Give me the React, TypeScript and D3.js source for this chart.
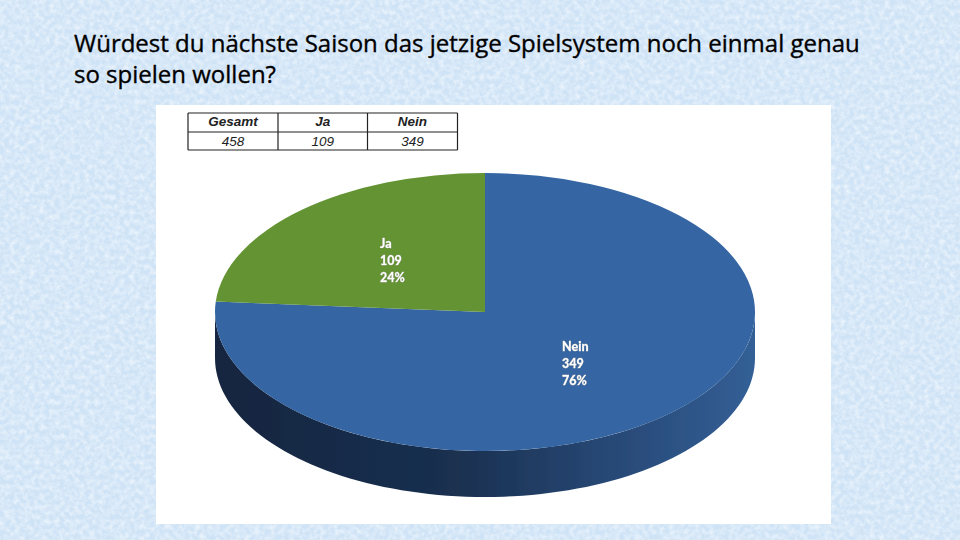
import React from "react";
import * as d3 from "d3";

const titleLines = ["Würdest du nächste Saison das jetzige Spielsystem noch einmal genau", "so spielen wollen?"];
const categories = ["Nein", "Ja"];
const values = [349, 109];
const percents = ["76%", "24%"];
const sliceColors = ["#3465a2", "#649333"];
const tableHeaders = ["Gesamt", "Ja", "Nein"];
const tableValues = ["458", "109", "349"];
const columnEdges = [188, 278, 367.5, 457.5];
const rowEdges = [113, 132, 150];

const W = 960, H = 540;
const cx = 485, cy = 312, rx = 270, ry = 139, depth = 46;

const pie = d3.pie<number>().sort(null).startAngle(0).endAngle(2 * Math.PI);
const arcs = pie(values);
const arcGen = d3.arc<d3.PieArcDatum<number>>().innerRadius(0).outerRadius(rx);
const yScale = ry / rx;

const frontAngles = d3.range(90, 270.5, 2).map((d) => (d * Math.PI) / 180);
const sidePt = (a: number, dy: number): [number, number] => [cx + rx * Math.sin(a), cy - ry * Math.cos(a) + dy];
const sideLine = d3.line();
const sidePath = sideLine([
  ...frontAngles.map((a) => sidePt(a, 0)),
  ...[...frontAngles].reverse().map((a) => sidePt(a, depth)),
])! + "Z";

const labelPos = [
  { x: 562, y: 351 },
  { x: 380, y: 248 },
];

export default function App() {
  return (
    <svg width={W} height={H} viewBox={`0 0 ${W} ${H}`} style={{ position: "absolute", left: 0, top: 0 }}>
      <defs>
        <filter id="paper" x="0" y="0" width="100%" height="100%">
          <feTurbulence type="fractalNoise" baseFrequency="0.2" numOctaves={3} seed={7} />
          <feColorMatrix type="matrix" values="0 0 0 0 0.93  0 0 0 0 0.97  0 0 0 0 1  1.3 0 0 0 -0.45" />
        </filter>
        <linearGradient id="side" x1={cx - rx} x2={cx + rx} y1="0" y2="0" gradientUnits="userSpaceOnUse">
          <stop offset="0" stopColor="#14263f" />
          <stop offset="0.45" stopColor="#1a3050" />
          <stop offset="0.75" stopColor="#284a78" />
          <stop offset="1" stopColor="#335f96" />
        </linearGradient>
        <filter id="soft"><feGaussianBlur stdDeviation="0.4" /></filter>
      </defs>
      <rect width={W} height={H} fill="#cfe3f6" />
      <rect width={W} height={H} filter="url(#paper)" />
      <rect x={156} y={105} width={675} height={419} fill="#ffffff" />

      <g filter="url(#soft)">
        <path d={sidePath} fill="url(#side)" />
        <g transform={`translate(${cx},${cy}) scale(1,${yScale})`}>
          {arcs.map((a, i) => (
            <path key={categories[i]} d={arcGen(a)!} fill={sliceColors[i]} />
          ))}
        </g>
      </g>

      {categories.map((c, i) => (
        <text key={c} x={labelPos[i].x} y={labelPos[i].y} fontFamily="Lato" fontWeight={900} fontSize={12.5} fill="#fff" stroke="#fff" strokeWidth={0.3} style={{ filter: "drop-shadow(0.5px 0.8px 0.4px rgba(0,0,0,0.6))" }}>
          <tspan x={labelPos[i].x}>{c}</tspan>
          <tspan x={labelPos[i].x} dy={17}>{values[i]}</tspan>
          <tspan x={labelPos[i].x} dy={17}>{percents[i]}</tspan>
        </text>
      ))}

      <g fontFamily="Liberation Sans" fontStyle="italic" fontSize={13.5} textAnchor="middle" fill="#222">
        {tableHeaders.map((h, i) => (
          <text key={h} x={(columnEdges[i] + columnEdges[i + 1]) / 2} y={126} fontWeight={700}>{h}</text>
        ))}
        {tableValues.map((v, i) => (
          <text key={i} x={(columnEdges[i] + columnEdges[i + 1]) / 2} y={146}>{v}</text>
        ))}
      </g>
      <g stroke="#222" strokeWidth={1.2} fill="none">
        {columnEdges.map((x) => <line key={x} x1={x} x2={x} y1={rowEdges[0]} y2={rowEdges[2]} />)}
        {rowEdges.map((y) => <line key={y} x1={columnEdges[0]} x2={columnEdges[3]} y1={y} y2={y} />)}
      </g>

      <g fontFamily="Open Sans" fontSize={24} fill="#000" stroke="#000" strokeWidth={0.35}>
        {titleLines.map((t, i) => (
          <text key={i} x={74} y={52 + i * 31}>{t}</text>
        ))}
      </g>
    </svg>
  );
}
